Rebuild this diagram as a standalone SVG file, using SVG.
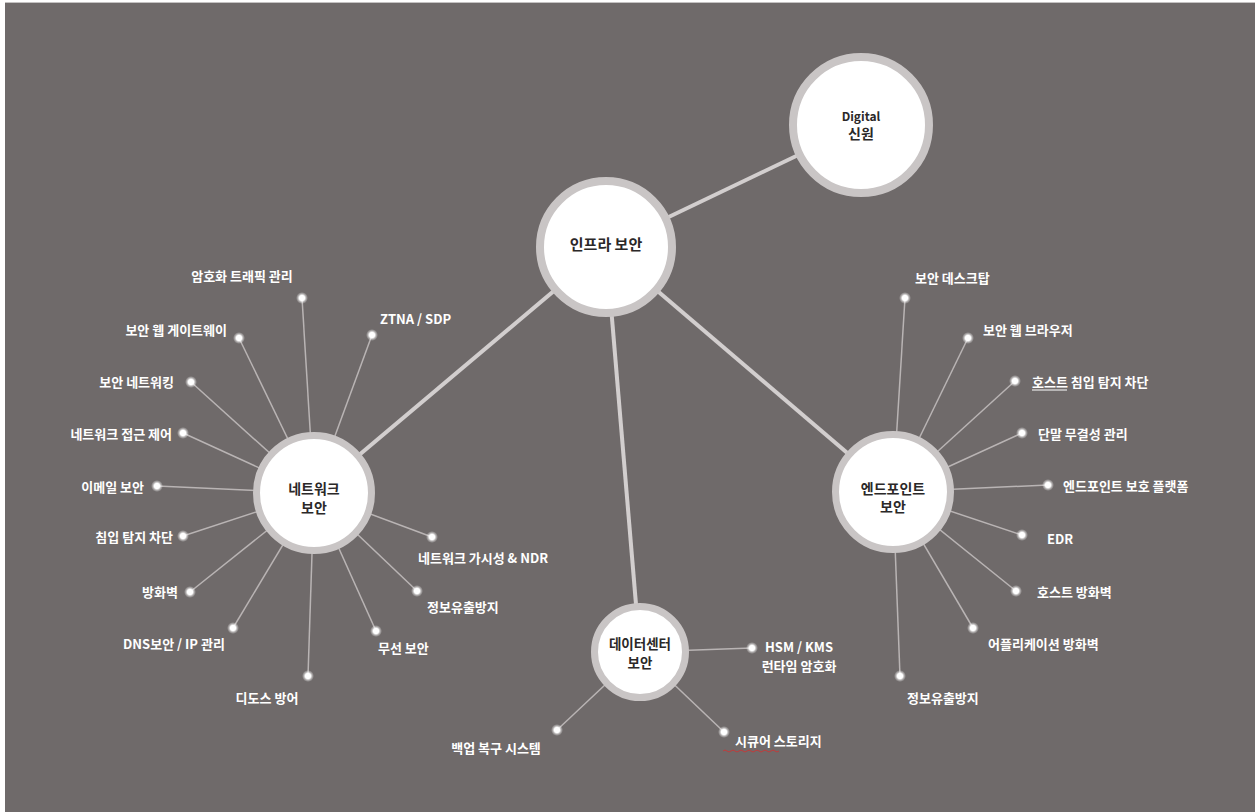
<svg xmlns="http://www.w3.org/2000/svg" width="1255" height="812" viewBox="0 0 1255 812">
  <defs>
    <radialGradient id="glow" cx="0.5" cy="0.5" r="0.5">
      <stop offset="0" stop-color="#ffffff" stop-opacity="1"/>
      <stop offset="0.45" stop-color="#ffffff" stop-opacity="1"/>
      <stop offset="0.7" stop-color="#ffffff" stop-opacity="0.45"/>
      <stop offset="1" stop-color="#ffffff" stop-opacity="0"/>
    </radialGradient>
  </defs>
  <style>
    .hub { stroke: #d2cece; stroke-width: 4; fill: none; }
    .leaf { stroke: #b9b4b4; stroke-width: 1.5; fill: none; }
    .ring { fill: #ffffff; stroke: #c9c5c5; }
    .ntext { font-family: "Noto Sans CJK KR", "Noto Sans", sans-serif; font-weight: bold; fill: #2b2828; text-anchor: middle; dominant-baseline: central; }
    .lbl { font-family: "Noto Sans CJK KR", "Noto Sans", sans-serif; font-weight: bold; font-size: 13px; fill: #ffffff; dominant-baseline: central; }
    .dot { fill: url(#glow); }
  </style>

  <!-- background -->
  <rect x="0" y="0" width="1255" height="812" fill="#ffffff"/>
  <rect x="5" y="2" width="1250" height="810" fill="#c4c2c2"/>
  <rect x="5" y="3" width="1250" height="809" fill="#6f6a6a"/>

  <g id="connectors">
    <!-- hub connectors -->
    <line class="hub" x1="606" y1="247" x2="861" y2="125"/>
    <line class="hub" x1="606" y1="247" x2="314" y2="493"/>
    <line class="hub" x1="606" y1="247" x2="893" y2="492"/>
    <line class="hub" x1="606" y1="247" x2="640" y2="652"/>
    <!-- network leaves -->
    <line class="leaf" x1="302" y1="298" x2="314" y2="493"/>
    <line class="leaf" x1="372" y1="335" x2="314" y2="493"/>
    <line class="leaf" x1="239" y1="338" x2="314" y2="493"/>
    <line class="leaf" x1="191" y1="382" x2="314" y2="493"/>
    <line class="leaf" x1="183" y1="433" x2="314" y2="493"/>
    <line class="leaf" x1="157" y1="486" x2="314" y2="493"/>
    <line class="leaf" x1="183" y1="536" x2="314" y2="493"/>
    <line class="leaf" x1="190" y1="592" x2="314" y2="493"/>
    <line class="leaf" x1="233" y1="628" x2="314" y2="493"/>
    <line class="leaf" x1="308" y1="676" x2="314" y2="493"/>
    <line class="leaf" x1="376" y1="631" x2="314" y2="493"/>
    <line class="leaf" x1="417" y1="591" x2="314" y2="493"/>
    <line class="leaf" x1="432" y1="537" x2="314" y2="493"/>
    <!-- endpoint leaves -->
    <line class="leaf" x1="905" y1="298" x2="893" y2="492"/>
    <line class="leaf" x1="968" y1="338" x2="893" y2="492"/>
    <line class="leaf" x1="1015" y1="381" x2="893" y2="492"/>
    <line class="leaf" x1="1022" y1="433" x2="893" y2="492"/>
    <line class="leaf" x1="1048" y1="485" x2="893" y2="492"/>
    <line class="leaf" x1="1022" y1="535" x2="893" y2="492"/>
    <line class="leaf" x1="1016" y1="591" x2="893" y2="492"/>
    <line class="leaf" x1="973" y1="628" x2="893" y2="492"/>
    <line class="leaf" x1="900" y1="676" x2="893" y2="492"/>
    <!-- data center leaves -->
    <line class="leaf" x1="752" y1="648" x2="640" y2="652"/>
    <line class="leaf" x1="557" y1="730" x2="640" y2="652"/>
    <line class="leaf" x1="724" y1="732" x2="640" y2="652"/>
  </g>

  <!-- hub nodes -->
  <g id="node-digital">
    <circle class="ring" cx="861" cy="125" r="68" stroke-width="8"/>
    <text class="ntext" font-size="12" x="861" y="115">Digital</text>
    <text class="ntext" font-size="14" x="861" y="133">신원</text>
  </g>
  <g id="node-infra">
    <circle class="ring" cx="606" cy="247" r="66" stroke-width="8"/>
    <text class="ntext" font-size="15" x="606" y="243">인프라 보안</text>
  </g>
  <g id="node-network">
    <circle class="ring" cx="314" cy="493" r="57.5" stroke-width="7"/>
    <text class="ntext" font-size="14" x="314" y="488">네트워크</text>
    <text class="ntext" font-size="14" x="314" y="507">보안</text>
  </g>
  <g id="node-endpoint">
    <circle class="ring" cx="893" cy="492" r="57.5" stroke-width="7"/>
    <text class="ntext" font-size="14" x="893" y="488">엔드포인트</text>
    <text class="ntext" font-size="14" x="893" y="506">보안</text>
  </g>
  <g id="node-datacenter">
    <circle class="ring" cx="640" cy="652" r="45.5" stroke-width="7"/>
    <text class="ntext" font-size="13.5" x="640" y="643">데이터센터</text>
    <text class="ntext" font-size="13.5" x="640" y="662">보안</text>
  </g>

  <!-- network leaves -->
  <g id="leaf-n1"><circle class="dot" cx="302" cy="298" r="6"/><text class="lbl" x="242" y="275" text-anchor="middle">암호화 트래픽 관리</text></g>
  <g id="leaf-n2"><circle class="dot" cx="372" cy="335" r="6"/><text class="lbl" x="380" y="318">ZTNA / SDP</text></g>
  <g id="leaf-n3"><circle class="dot" cx="239" cy="338" r="6"/><text class="lbl" x="227" y="329" text-anchor="end">보안 웹 게이트웨이</text></g>
  <g id="leaf-n4"><circle class="dot" cx="191" cy="382" r="6"/><text class="lbl" x="174" y="381" text-anchor="end">보안 네트워킹</text></g>
  <g id="leaf-n5"><circle class="dot" cx="183" cy="433" r="6"/><text class="lbl" x="172" y="433" text-anchor="end">네트워크 접근 제어</text></g>
  <g id="leaf-n6"><circle class="dot" cx="157" cy="486" r="6"/><text class="lbl" x="144" y="486" text-anchor="end">이메일 보안</text></g>
  <g id="leaf-n7"><circle class="dot" cx="183" cy="536" r="6"/><text class="lbl" x="173" y="536" text-anchor="end">침입 탐지 차단</text></g>
  <g id="leaf-n8"><circle class="dot" cx="190" cy="592" r="6"/><text class="lbl" x="178" y="591" text-anchor="end">방화벽</text></g>
  <g id="leaf-n9"><circle class="dot" cx="233" cy="628" r="6"/><text class="lbl" x="174" y="643" text-anchor="middle">DNS보안 / IP 관리</text></g>
  <g id="leaf-n10"><circle class="dot" cx="308" cy="676" r="6"/><text class="lbl" x="267" y="697" text-anchor="middle">디도스 방어</text></g>
  <g id="leaf-n11"><circle class="dot" cx="376" cy="631" r="6"/><text class="lbl" x="378" y="647">무선 보안</text></g>
  <g id="leaf-n12"><circle class="dot" cx="417" cy="591" r="6"/><text class="lbl" x="427" y="606">정보유출방지</text></g>
  <g id="leaf-n13"><circle class="dot" cx="432" cy="537" r="6"/><text class="lbl" x="418" y="557">네트워크 가시성 &amp; NDR</text></g>

  <!-- endpoint leaves -->
  <g id="leaf-e1"><circle class="dot" cx="905" cy="298" r="6"/><text class="lbl" x="915" y="277">보안 데스크탑</text></g>
  <g id="leaf-e2"><circle class="dot" cx="968" cy="338" r="6"/><text class="lbl" x="983" y="329">보안 웹 브라우저</text></g>
  <g id="leaf-e3"><circle class="dot" cx="1015" cy="381" r="6"/><text class="lbl" x="1032" y="381">호스트 침입 탐지 차단</text><line x1="1032" y1="390" x2="1067" y2="390" stroke="#ffffff" stroke-width="1"/></g>
  <g id="leaf-e4"><circle class="dot" cx="1022" cy="433" r="6"/><text class="lbl" x="1038" y="433">단말 무결성 관리</text></g>
  <g id="leaf-e5"><circle class="dot" cx="1048" cy="485" r="6"/><text class="lbl" x="1063" y="485">엔드포인트 보호 플랫폼</text></g>
  <g id="leaf-e6"><circle class="dot" cx="1022" cy="535" r="6"/><text class="lbl" x="1047" y="538">EDR</text></g>
  <g id="leaf-e7"><circle class="dot" cx="1016" cy="591" r="6"/><text class="lbl" x="1037" y="591">호스트 방화벽</text></g>
  <g id="leaf-e8"><circle class="dot" cx="973" cy="628" r="6"/><text class="lbl" x="988" y="643">어플리케이션 방화벽</text></g>
  <g id="leaf-e9"><circle class="dot" cx="900" cy="676" r="6"/><text class="lbl" x="907" y="697">정보유출방지</text></g>

  <!-- data center leaves -->
  <g id="leaf-d1"><circle class="dot" cx="752" cy="648" r="6"/><text class="lbl" x="799" y="646" text-anchor="middle" font-size="10.5">HSM / KMS</text><text class="lbl" x="799" y="665" text-anchor="middle" font-size="12.5">런타임 암호화</text></g>
  <g id="leaf-d2"><circle class="dot" cx="557" cy="730" r="6"/><text class="lbl" x="496" y="747" text-anchor="middle">백업 복구 시스템</text></g>
  <g id="leaf-d3"><circle class="dot" cx="724" cy="732" r="6"/><text class="lbl" x="735" y="740">시큐어 스토리지</text><path d="M723 751 q2 -2 4 0 t4 0 t4 0 t4 0 t4 0 t4 0 t4 0 t4 0 t4 0 t4 0 t4 0 t4 0 t4 0 t4 0" stroke="#c23a3a" stroke-width="1" fill="none"/></g>
</svg>
